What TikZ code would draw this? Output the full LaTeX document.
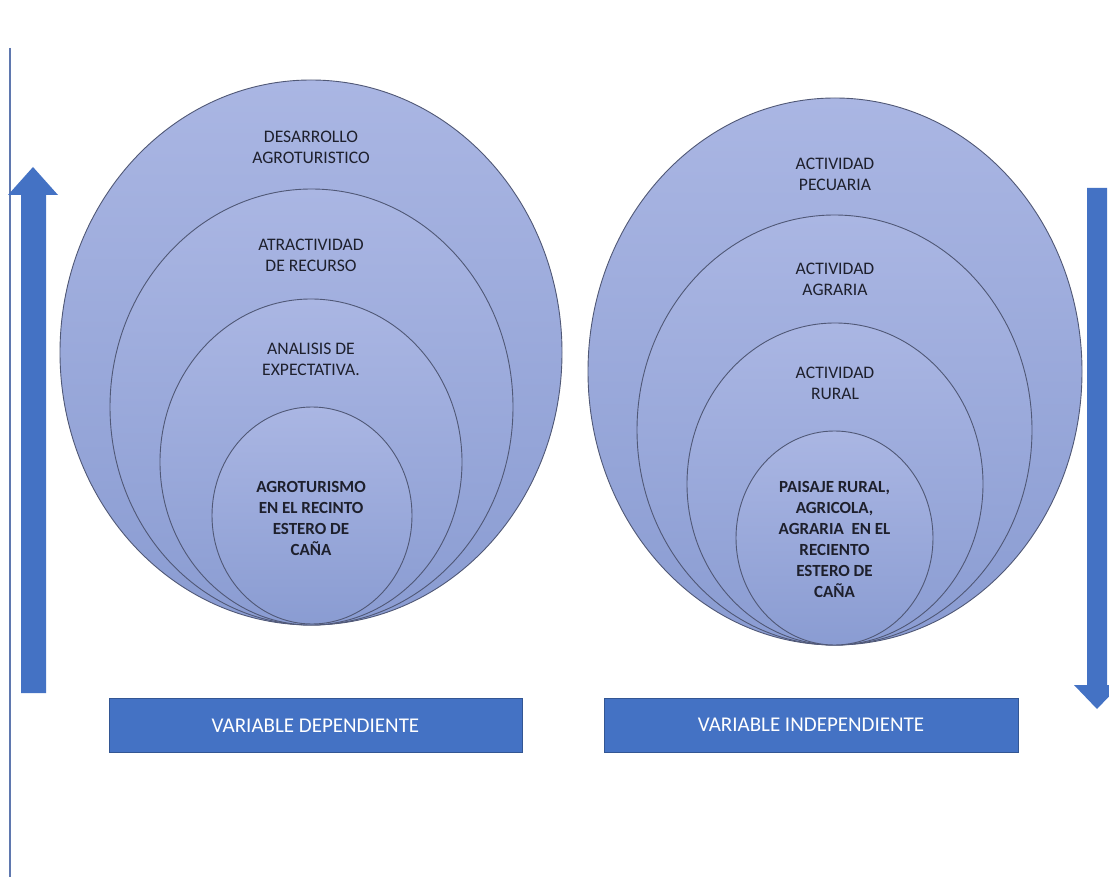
\documentclass[tikz,border=0pt]{standalone}
\usepackage{fontspec}
\setmainfont{Carlito}
\usetikzlibrary{shapes.geometric}
\definecolor{accent}{RGB}{68,114,196}
\definecolor{elltop}{RGB}{170,182,227}
\definecolor{ellbot}{RGB}{138,156,210}
\definecolor{ellline}{RGB}{80,88,118}
\definecolor{txt}{RGB}{30,32,45}
\definecolor{vline}{RGB}{95,120,175}
\begin{document}
\begin{tikzpicture}[x=1pt,y=-1pt,
  ring/.style={ellipse, draw=ellline, line width=0.9pt, top color=elltop, bottom color=ellbot, inner sep=0pt, outer sep=0pt},
  lbl/.style={align=center, text=txt, inner sep=0pt, font=\fontsize{17.6}{21}\selectfont},
  blbl/.style={align=center, text=txt, inner sep=0pt, font=\fontsize{17}{21}\selectfont\bfseries},
  varbox/.style={fill=accent, draw=accent!75!black, line width=0.6pt, text=white, inner sep=0pt,
    font=\fontsize{21}{25}\selectfont, minimum height=54pt},
  bigarrow/.style={fill=accent, draw=none}]
\clip (0,0) rectangle (1109,877);
\fill[white] (0,0) rectangle (1109,877);
% left thin line
\coordinate (vtop) at (10,48);
\coordinate (vbot) at (10,877);
\draw[vline, line width=1.4pt] (vtop) -- (vbot);
% up arrow
\fill[bigarrow] (21,693) -- (46,693) -- (46,195) -- (58,195) -- (33,167) -- (8,195) -- (21,195) -- cycle;
% down arrow
\fill[bigarrow] (1087,188) -- (1107,188) -- (1107,685) -- (1120,685) -- (1097,709) -- (1074,685) -- (1087,685) -- cycle;
% left ellipses
\node[ring, minimum width=502pt, minimum height=545pt] (L1) at (311,352.5) {};
\node[ring, minimum width=403pt, minimum height=436pt] (L2) at (311.5,407) {};
\node[ring, minimum width=302pt, minimum height=326pt] (L3) at (311,462) {};
\node[ring, minimum width=200pt, minimum height=217pt] (L4) at (312,515.5) {};
\node[lbl] (l1t) at (311,147) {DESARROLLO\\AGROTURISTICO};
\node[lbl] (l2t) at (311,255) {ATRACTIVIDAD\\DE RECURSO};
\node[lbl] (l3t) at (311,359) {ANALISIS DE\\EXPECTATIVA.};
\node[blbl] (l4t) at (311,518) {AGROTURISMO\\EN EL RECINTO\\ESTERO DE\\CAÑA};
% right ellipses
\node[ring, minimum width=494pt, minimum height=547pt] (R1) at (835,371.5) {};
\node[ring, minimum width=395pt, minimum height=430pt] (R2) at (834.5,430) {};
\node[ring, minimum width=296pt, minimum height=322pt] (R3) at (835,484) {};
\node[ring, minimum width=197pt, minimum height=214pt] (R4) at (834.5,538) {};
\node[lbl] (r1t) at (835,174) {ACTIVIDAD\\PECUARIA};
\node[lbl] (r2t) at (835,279) {ACTIVIDAD\\AGRARIA};
\node[lbl] (r3t) at (835,383) {ACTIVIDAD\\RURAL};
\node[blbl] (r4t) at (834.5,539) {PAISAJE RURAL,\\AGRICOLA,\\AGRARIA\ \ EN EL\\RECIENTO\\ESTERO DE\\CAÑA};
% boxes
\node[varbox, minimum width=413pt] (vd) at (315.5,725.5) {VARIABLE DEPENDIENTE};
\node[varbox, minimum width=414pt] (vi) at (811,725) {VARIABLE INDEPENDIENTE};
\end{tikzpicture}
\end{document}
